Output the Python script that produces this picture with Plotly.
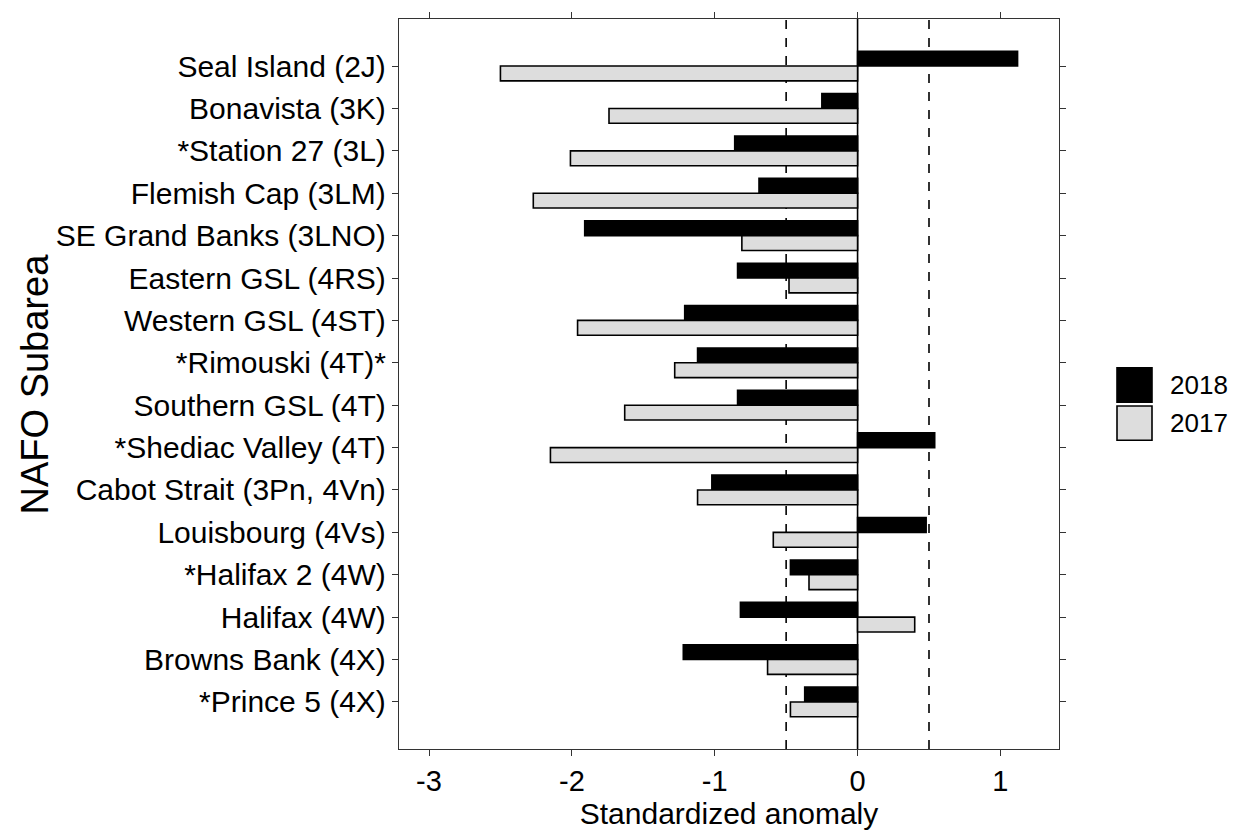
import plotly.graph_objects as go

# NAFO subareas, listed top to bottom
stations = [
    "Seal Island (2J)", "Bonavista (3K)", "*Station 27 (3L)", "Flemish Cap (3LM)",
    "SE Grand Banks (3LNO)", "Eastern GSL (4RS)", "Western GSL (4ST)", "*Rimouski (4T)*",
    "Southern GSL (4T)", "*Shediac Valley (4T)", "Cabot Strait (3Pn, 4Vn)", "Louisbourg (4Vs)",
    "*Halifax 2 (4W)", "Halifax (4W)", "Browns Bank (4X)", "*Prince 5 (4X)",
]
anom_2018 = [1.12, -0.25, -0.86, -0.69, -1.91, -0.84, -1.21, -1.12,
             -0.84, 0.54, -1.02, 0.48, -0.47, -0.82, -1.22, -0.37]
anom_2017 = [-2.50, -1.74, -2.01, -2.27, -0.81, -0.48, -1.96, -1.28,
             -1.63, -2.15, -1.12, -0.59, -0.34, 0.40, -0.63, -0.47]
years = ["2018", "2017"]
fills = ["#000000", "#DDDDDD"]
x_ticks = [-3, -2, -1, 0, 1]

FONT = "Liberation Sans, Arial, sans-serif"
AXIS = "#333333"

fig = go.Figure()
for name, vals, col in zip(years, [anom_2018, anom_2017], fills):
    fig.add_trace(go.Bar(
        x=vals, y=stations, orientation="h", name=name,
        marker=dict(color=col, line=dict(color="#000000", width=1.6)),
        showlegend=False,
    ))

# reference lines at 0 and +/-0.5
fig.add_vline(x=0, line=dict(color="#000000", width=1.6), layer="below")
for v in (-0.5, 0.5):
    fig.add_vline(x=v, line=dict(color="#000000", width=1.6, dash="dash"), layer="below")

fig.update_layout(
    width=1239, height=834,
    margin=dict(l=399, r=180, t=12, b=75),
    paper_bgcolor="white", plot_bgcolor="white",
    barmode="group", bargap=0.3, bargroupgap=0,
    font=dict(family=FONT, color="#000000"),
    xaxis=dict(
        range=[-3.21, 1.41], tickvals=x_ticks, ticktext=[str(t) for t in x_ticks],
        showgrid=False, zeroline=False, showline=True, linecolor=AXIS, linewidth=1.3,
        mirror="ticks", ticks="outside", ticklen=6, tickwidth=1.3, tickcolor=AXIS,
        tickfont=dict(size=29, color="#000000"),
        title=dict(text="Standardized anomaly", font=dict(size=30), standoff=4),
    ),
    yaxis=dict(
        type="category", categoryorder="array", categoryarray=stations,
        range=[16.11, -1.11],
        showgrid=False, zeroline=False, showline=True, linecolor=AXIS, linewidth=1.3,
        mirror="ticks", ticks="outside", ticklen=6, tickwidth=1.3, tickcolor=AXIS,
        tickfont=dict(size=30, color="#000000"),
    ),
)

# y-axis title
fig.add_annotation(
    text="NAFO Subarea", textangle=-90, xref="paper", yref="paper",
    x=(35 - 399) / 660, y=(759 - 386) / 747, xanchor="center", yanchor="middle",
    showarrow=False, font=dict(size=38, family=FONT, color="#000000"),
)

# legend keys and labels
key_x0, key_x1 = 1117, 1152
key_rows = [(369, 404), (408, 443)]
for name, col, (y0, y1) in zip(years, fills, key_rows):
    fig.add_shape(
        type="rect", xref="paper", yref="paper",
        x0=(key_x0 - 399) / 660, x1=(key_x1 - 399) / 660,
        y0=(759 - y1) / 747, y1=(759 - y0) / 747,
        fillcolor=col, line=dict(color="#000000", width=1.6),
    )
    fig.add_annotation(
        text=name, xref="paper", yref="paper",
        x=(1168 - 399) / 660, y=(759 - (y0 + y1) / 2) / 747,
        xanchor="left", yanchor="middle", showarrow=False,
        font=dict(size=26, family=FONT, color="#000000"),
    )

fig.write_html("out.html")
